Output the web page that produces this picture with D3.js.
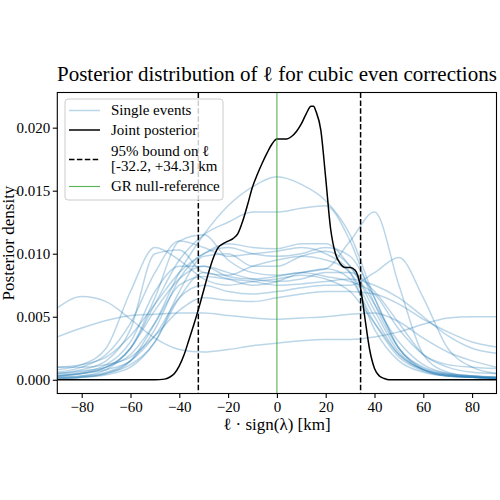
<!DOCTYPE html>
<html>
<head>
<meta charset="utf-8">
<script src="https://cdn.jsdelivr.net/npm/d3@7"></script>
<style>
  body { margin: 0; background: #fff; }
  text { font-family: "Liberation Serif", "DejaVu Serif", serif; }
</style>
</head>
<body>
<svg id="chart"></svg>
<script>
// grid of x values for the single-event curves (km)
const gridX = [-90, -80, -70, -60, -50, -40, -30, -20, -10, 0, 10, 20, 30, 40, 50, 60, 70, 80, 90];

// single event posteriors, density x 1e-3
const singleEvents = [
  [0.1, 0.2, 0.5, 1.5, 4.5, 8.5, 11.5, 13.8, 15.3, 16.1, 15.5, 14.2, 11.5, 6.5, 2.5, 0.8, 0.3, 0.2, 0.1],
  [0.3, 0.5, 1.0, 2.5, 6.0, 9.5, 11.5, 12.5, 13.3, 13.3, 13.6, 13.8, 11.0, 6.0, 2.5, 1.0, 0.5, 0.3, 0.2],
  [5.7, 6.6, 6.2, 4.8, 3.3, 2.4, 2.2, 2.4, 2.7, 2.9, 3.1, 3.2, 3.2, 3.4, 3.8, 4.4, 4.9, 5.0, 5.0],
  [3.4, 4.1, 4.7, 5.1, 5.2, 5.3, 5.3, 5.1, 4.9, 4.8, 4.9, 5.0, 5.2, 5.3, 4.6, 3.3, 2.2, 1.5, 1.0],
  [0.8, 1.2, 2.5, 7.0, 10.5, 9.5, 8.0, 7.5, 7.8, 8.0, 8.3, 8.0, 7.0, 4.5, 2.0, 0.8, 0.4, 0.3, 0.2],
  [0.5, 0.8, 1.5, 4.0, 10.0, 10.3, 8.5, 8.3, 9.0, 9.5, 9.8, 9.5, 8.5, 5.0, 2.0, 0.8, 0.4, 0.2, 0.1],
  [0.3, 0.5, 1.0, 2.5, 6.5, 11.0, 11.5, 9.5, 8.5, 8.3, 8.5, 8.8, 8.0, 4.5, 1.8, 0.7, 0.3, 0.2, 0.1],
  [0.6, 1.0, 2.0, 4.5, 8.5, 11.0, 10.5, 9.8, 10.0, 10.2, 10.5, 10.0, 8.5, 4.0, 1.5, 0.6, 0.3, 0.2, 0.1],
  [0.2, 0.3, 0.6, 1.5, 4.0, 8.0, 10.0, 10.5, 10.0, 9.8, 10.0, 10.5, 9.8, 6.5, 2.5, 0.9, 0.4, 0.2, 0.1],
  [0.1, 0.2, 0.4, 1.0, 3.0, 6.5, 8.5, 8.0, 7.5, 7.8, 8.5, 8.8, 11.0, 13.3, 7.5, 2.0, 0.6, 0.3, 0.2],
  [0.3, 0.5, 0.8, 1.5, 3.5, 6.5, 7.5, 7.0, 6.8, 7.0, 7.3, 7.5, 7.5, 8.5, 9.7, 6.5, 2.5, 1.0, 0.5],
  [1.0, 1.0, 1.2, 1.8, 3.5, 5.5, 6.5, 6.3, 6.2, 6.5, 6.8, 7.0, 7.0, 6.8, 6.0, 4.8, 3.8, 3.0, 2.6],
  [0.5, 0.7, 1.0, 2.0, 4.5, 7.5, 8.2, 8.0, 7.8, 7.5, 7.6, 7.8, 8.0, 7.5, 6.5, 5.0, 3.5, 2.5, 2.1],
  [0.4, 0.6, 1.2, 3.0, 7.0, 9.0, 9.0, 8.2, 8.0, 8.2, 8.5, 8.2, 7.8, 6.8, 4.0, 2.0, 1.2, 1.0, 0.9],
  [1.0, 1.2, 1.8, 3.5, 6.0, 8.5, 10.0, 10.8, 10.5, 10.4, 10.8, 10.8, 9.0, 6.0, 3.0, 1.2, 0.5, 0.3, 0.2],
  [0.1, 0.2, 0.5, 1.2, 3.0, 7.0, 9.8, 10.0, 9.0, 9.0, 9.8, 10.2, 9.0, 5.5, 2.2, 0.8, 0.3, 0.2, 0.1],
  [0.2, 0.3, 0.8, 2.5, 5.5, 8.0, 9.0, 8.5, 8.0, 7.8, 8.0, 8.5, 8.5, 7.0, 4.5, 2.0, 1.0, 0.6, 0.5]
];

// joint posterior (density x 1e-3)
const jointX = [-90, -50, -46, -44, -42, -40, -38, -36, -34, -32, -30, -28, -26, -24, -22, -20, -18, -16, -14, -12, -10, -8, -6, -4, -2, 0, 2, 4, 6, 8, 10, 12, 14, 15, 16, 18, 20, 22, 24, 26, 28, 30, 32, 34, 35, 36, 38, 40, 42, 44, 46, 90];
const jointY = [0, 0, 0.05, 0.2, 0.5, 1.1, 2.0, 3.2, 4.4, 5.7, 7.1, 8.5, 9.7, 10.5, 10.8, 11.0, 11.2, 11.6, 12.6, 13.9, 15.3, 16.3, 17.2, 18.0, 18.7, 19.1, 19.1, 19.1, 19.3, 19.7, 20.3, 21.1, 21.7, 21.7, 21.3, 19.8, 16.0, 12.0, 10.0, 9.2, 8.9, 8.9, 8.7, 7.6, 6.4, 5.0, 2.4, 0.9, 0.3, 0.1, 0, 0];

const bounds = [-32.2, 34.3];
const grValue = 0;
const xTicks = [-80, -60, -40, -20, 0, 20, 40, 60, 80];
const yTicks = [0, 0.005, 0.01, 0.015, 0.02];
const legendLabels = ["Single events", "Joint posterior", "95% bound on \u2113", "GR null-reference"];

const width = 500, height = 500;
const margin = { top: 92.5, right: 3.5, bottom: 106.5, left: 57.3 };
const plotW = width - margin.left - margin.right;
const plotH = height - margin.top - margin.bottom;

const svg = d3.select("#chart").attr("width", width).attr("height", height);

const x = d3.scaleLinear().domain([-90, 90]).range([0, plotW]);
const y = d3.scaleLinear().domain([-0.00109, 0.02279]).range([plotH, 0]);

const main = svg.append("g").attr("transform", `translate(${margin.left},${margin.top})`);

main.append("defs").append("clipPath").attr("id", "clip")
  .append("rect").attr("width", plotW).attr("height", plotH);

const plot = main.append("g").attr("clip-path", "url(#clip)");

const line = d3.line()
  .x(d => x(d[0]))
  .y(d => y(d[1] * 1e-3))
  .curve(d3.curveMonotoneX);

// single events
plot.selectAll(".single")
  .data(singleEvents)
  .join("path")
  .attr("class", "single")
  .attr("d", vals => line(vals.map((v, i) => [gridX[i], v])))
  .attr("fill", "none")
  .attr("stroke", "#1f77b4")
  .attr("stroke-opacity", 0.3)
  .attr("stroke-width", 1.5);

// joint posterior
plot.append("path")
  .attr("d", line(jointX.map((v, i) => [v, jointY[i]])))
  .attr("fill", "none")
  .attr("stroke", "#000")
  .attr("stroke-width", 1.5);

// 95% bounds
plot.selectAll(".bound")
  .data(bounds)
  .join("line")
  .attr("class", "bound")
  .attr("x1", d => x(d)).attr("x2", d => x(d))
  .attr("y1", 0).attr("y2", plotH)
  .attr("stroke", "#000")
  .attr("stroke-width", 1.5)
  .attr("stroke-dasharray", "5.5,2.4");

// GR reference
plot.append("line")
  .attr("x1", x(grValue)).attr("x2", x(grValue))
  .attr("y1", 0).attr("y2", plotH)
  .attr("stroke", "#2ca02c")
  .attr("stroke-opacity", 0.8)
  .attr("stroke-width", 1.1);

// axes
const xAxis = main.append("g")
  .attr("transform", `translate(0,${plotH})`)
  .call(d3.axisBottom(x).tickValues(xTicks).tickSize(4.5).tickPadding(3).tickSizeOuter(0));
const yAxis = main.append("g")
  .call(d3.axisLeft(y).tickValues(yTicks).tickFormat(d3.format(".3f")).tickSize(4.5).tickPadding(2.5).tickSizeOuter(0));

[xAxis, yAxis].forEach(a => {
  a.selectAll("text").attr("font-size", 15).attr("font-family", "Liberation Serif").attr("fill", "#000");
  a.selectAll("line").attr("stroke-width", 1.1);
  a.select(".domain").remove();
});

main.append("rect")
  .attr("width", plotW).attr("height", plotH)
  .attr("fill", "none").attr("stroke", "#000").attr("stroke-width", 1.1);

// titles
svg.append("text")
  .attr("x", margin.left + plotW / 2).attr("y", 81)
  .attr("text-anchor", "middle").attr("font-size", 21)
  .text("Posterior distribution of \u2113 for cubic even corrections");

svg.append("text")
  .attr("x", margin.left + plotW / 2).attr("y", 430)
  .attr("text-anchor", "middle").attr("font-size", 17)
  .text("\u2113 \u00b7 sign(\u03bb) [km]");

svg.append("text")
  .attr("transform", `translate(14,${margin.top + plotH / 2}) rotate(-90)`)
  .attr("text-anchor", "middle").attr("font-size", 17)
  .text("Posterior density");

// legend
const leg = svg.append("g").attr("transform", "translate(65,99)");
leg.append("rect")
  .attr("width", 158).attr("height", 101).attr("rx", 3)
  .attr("fill", "#fff").attr("fill-opacity", 0.8)
  .attr("stroke", "#ccc").attr("stroke-width", 1);

const handles = [
  { y: 11.5, color: "#1f77b4", op: 0.3, dash: null },
  { y: 31, color: "#000", op: 1, dash: null },
  { y: 60.5, color: "#000", op: 1, dash: "5.5,2.4" },
  { y: 87.5, color: "#2ca02c", op: 0.8, dash: null }
];
leg.selectAll(".handle")
  .data(handles)
  .join("line")
  .attr("class", "handle")
  .attr("x1", 4).attr("x2", 35)
  .attr("y1", d => d.y).attr("y2", d => d.y)
  .attr("stroke", d => d.color)
  .attr("stroke-opacity", d => d.op)
  .attr("stroke-width", d => d.color === "#2ca02c" ? 1.1 : 1.5)
  .attr("stroke-dasharray", d => d.dash);

const textRows = [
  { y: 16, t: legendLabels[0] },
  { y: 35.5, t: legendLabels[1] },
  { y: 56.5, t: legendLabels[2] },
  { y: 72, t: "[-32.2, +34.3] km" },
  { y: 92, t: legendLabels[3] }
];
leg.selectAll(".ltext")
  .data(textRows)
  .join("text")
  .attr("class", "ltext")
  .attr("x", 46).attr("y", d => d.y)
  .attr("font-size", 15)
  .text(d => d.t);
</script>
</body>
</html>
